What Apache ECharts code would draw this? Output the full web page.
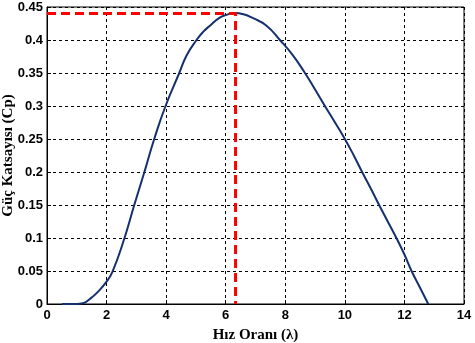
<!DOCTYPE html>
<html>
<head>
<meta charset="utf-8">
<script src="https://cdn.jsdelivr.net/npm/echarts@6/dist/echarts.min.js"></script>
<style>
  html, body { margin: 0; padding: 0; background: #fff; }
  #chart { width: 475px; height: 343px; }
</style>
</head>
<body>
<div id="chart"></div>
<script>
// tip speed ratio vs power coefficient
const lambdaValues = [0.5, 1.0, 1.2, 1.44, 1.7, 2.0, 2.2, 2.58, 2.93, 3.27, 3.6, 3.98, 4.44, 4.69, 5.02, 5.25, 5.47, 5.8, 6.03, 6.3, 6.6, 6.92, 7.37, 7.82, 8.25, 8.66, 9.0, 9.33, 9.67, 10.0, 10.3, 10.58, 10.87, 11.15, 11.44, 11.73, 12.0, 12.24, 12.52, 12.8];
const cpValues = [0, 0, 0.001, 0.0076, 0.018, 0.034, 0.049, 0.097, 0.15, 0.2, 0.25, 0.3, 0.35, 0.377, 0.4, 0.4126, 0.4217, 0.4338, 0.438, 0.441, 0.439, 0.433, 0.4217, 0.4, 0.377, 0.35, 0.325, 0.3, 0.275, 0.25, 0.225, 0.2, 0.175, 0.15, 0.125, 0.1, 0.075, 0.05, 0.025, 0];

// optimum point marked with red dashes
const peakLambda = 6.33;
const peakCp = 0.44;

const chart = echarts.init(document.getElementById('chart'));

const tickFont = {
  fontFamily: 'Liberation Sans',
  fontWeight: 'bold',
  fontSize: 13,
  color: '#000',
};

const nameFont = {
  fontFamily: 'Liberation Serif',
  fontWeight: 'bold',
  fontSize: 15,
  color: '#000',
};

const gridLine = {
  show: true,
  lineStyle: { color: '#000', type: [3, 3], width: 1 },
};

chart.setOption({
  animation: false,
  backgroundColor: '#fff',
  grid: {
    left: 47,
    right: 11,
    top: 7,
    bottom: 39,
    containLabel: false,
    outerBoundsMode: 'none',
    show: true,
    borderColor: '#000',
    borderWidth: 1,
  },
  xAxis: {
    type: 'value',
    min: 0,
    max: 14,
    interval: 2,
    name: 'Hız Oranı (λ)',
    nameLocation: 'middle',
    nameGap: 24,
    nameMoveOverlap: false,
    nameTextStyle: nameFont,
    axisLine: { lineStyle: { color: '#000' } },
    axisTick: { inside: true, length: 4, lineStyle: { color: '#000' } },
    axisLabel: { ...tickFont, margin: 5 },
    splitLine: gridLine,
  },
  yAxis: {
    type: 'value',
    min: 0,
    max: 0.45,
    interval: 0.05,
    name: 'Güç Katsayısı (Cp)',
    nameLocation: 'middle',
    nameGap: 31,
    nameMoveOverlap: false,
    nameTextStyle: nameFont,
    axisLine: { show: true, lineStyle: { color: '#000' } },
    axisTick: { show: true, inside: true, length: 4, lineStyle: { color: '#000' } },
    axisLabel: { ...tickFont, margin: 4, formatter: (v) => String(+v.toFixed(2)) },
    splitLine: gridLine,
  },
  series: [
    {
      type: 'line',
      data: lambdaValues.map((x, i) => [x, cpValues[i]]),
      smooth: 0.5,
      showSymbol: false,
      lineStyle: { color: '#14306e', width: 2 },
      z: 3,
    },
    {
      type: 'line',
      data: [[0, peakCp], [peakLambda, peakCp], [peakLambda, 0]],
      showSymbol: false,
      lineStyle: { color: '#ff0000', width: 3, type: [9, 5] },
      z: 4,
    },
  ],
});
</script>
</body>
</html>
